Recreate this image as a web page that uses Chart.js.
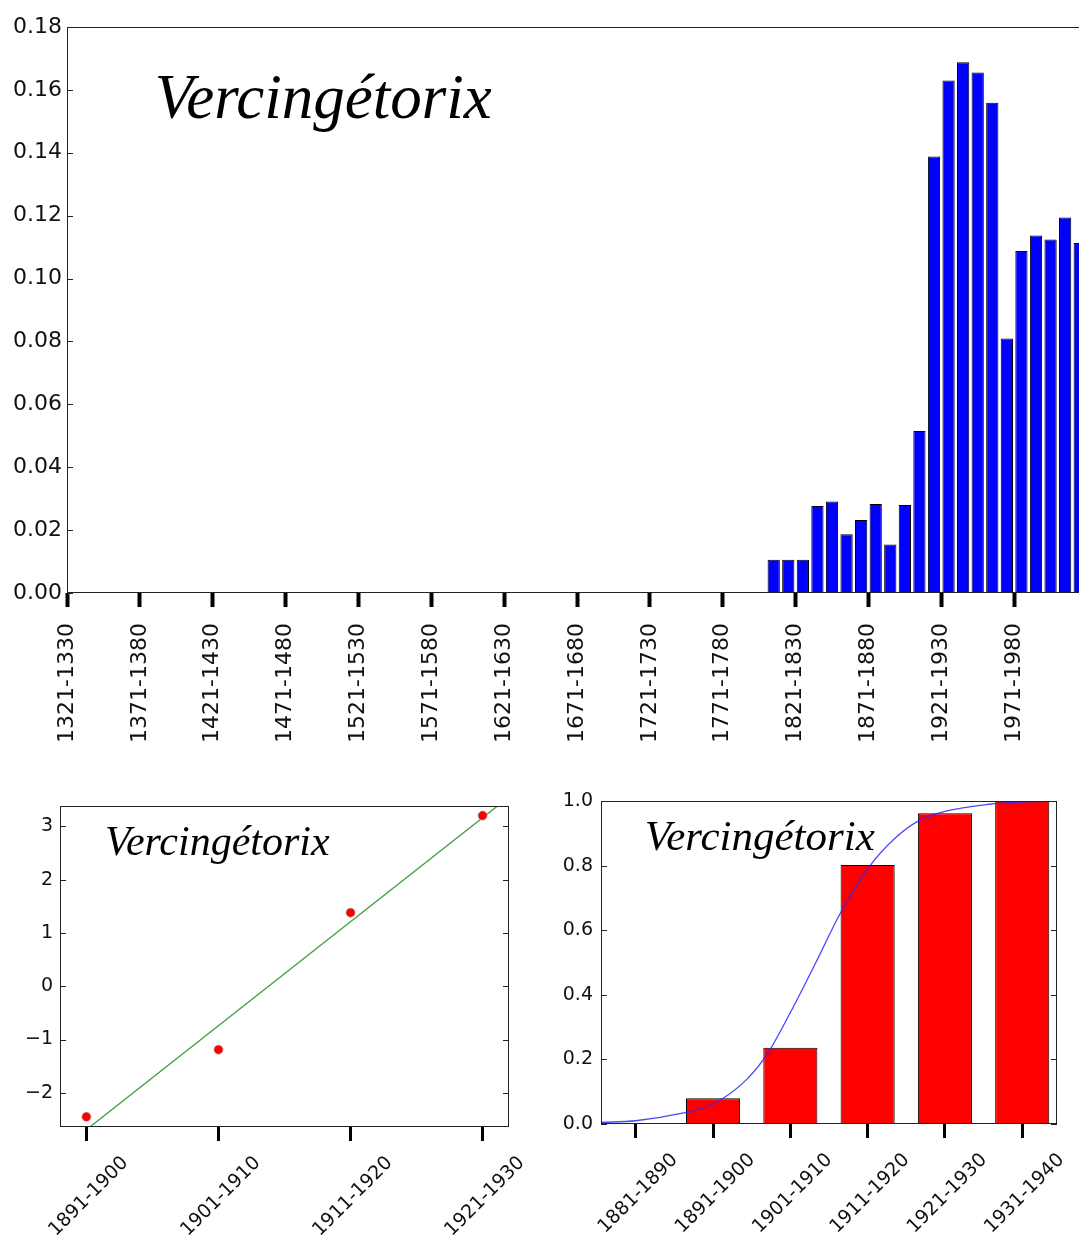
<!DOCTYPE html>
<html>
<head>
<meta charset="utf-8">
<script src="https://cdn.jsdelivr.net/npm/chart.js@4.4.0/dist/chart.umd.min.js"></script>
<style>
  html, body { margin: 0; padding: 0; background: #fff; overflow: hidden; }
  body { width: 1079px; height: 1243px; position: relative; }
  canvas { position: absolute; display: block; }
  #chartDecades { left: 0; top: 0; }
  #chartLogit { left: 0; top: 780px; }
  #chartCdf { left: 540px; top: 780px; }
</style>
</head>
<body>
<canvas id="chartDecades" width="1100" height="760"></canvas>
<canvas id="chartLogit" width="540" height="463"></canvas>
<canvas id="chartCdf" width="539" height="463"></canvas>
<script>
const NAME = 'Vercingétorix';

// top chart: every decade on the axis, bars only where the name appears
const allDecades = [
  '1321-1330', '1331-1340', '1341-1350', '1351-1360', '1361-1370', '1371-1380', '1381-1390', '1391-1400', '1401-1410', '1411-1420',
  '1421-1430', '1431-1440', '1441-1450', '1451-1460', '1461-1470', '1471-1480', '1481-1490', '1491-1500', '1501-1510', '1511-1520',
  '1521-1530', '1531-1540', '1541-1550', '1551-1560', '1561-1570', '1571-1580', '1581-1590', '1591-1600', '1601-1610', '1611-1620',
  '1621-1630', '1631-1640', '1641-1650', '1651-1660', '1661-1670', '1671-1680', '1681-1690', '1691-1700', '1701-1710', '1711-1720',
  '1721-1730', '1731-1740', '1741-1750', '1751-1760', '1761-1770', '1771-1780', '1781-1790', '1791-1800', '1801-1810', '1811-1820',
  '1821-1830', '1831-1840', '1841-1850', '1851-1860', '1861-1870', '1871-1880', '1881-1890', '1891-1900', '1901-1910', '1911-1920',
  '1921-1930', '1931-1940', '1941-1950', '1951-1960', '1961-1970', '1971-1980', '1981-1990', '1991-2000', '2001-2010', '2011-2020'
];
const barDecades = [
  '1801-1810', '1811-1820', '1821-1830', '1831-1840', '1841-1850', '1851-1860', '1861-1870', '1871-1880',
  '1881-1890', '1891-1900', '1901-1910', '1911-1920', '1921-1930', '1931-1940', '1941-1950', '1951-1960',
  '1961-1970', '1971-1980', '1981-1990', '1991-2000', '2001-2010', '2011-2020'
];
const shares = [
  0.0106, 0.0106, 0.0106, 0.0277, 0.0291, 0.0187, 0.0232, 0.0283,
  0.0154, 0.0280, 0.0515, 0.1388, 0.1630, 0.1688, 0.1655, 0.1559,
  0.0809, 0.1088, 0.1137, 0.1124, 0.1194, 0.1113
];

// bottom left: logit values and fitted line
const fitCats = ['1891-1900', '1901-1910', '1911-1920', '1921-1930'];
const logitValues = [-2.45, -1.19, 1.38, 3.20];
const fitX = [-0.2, 3.2];
const fitY = [-3.08, 3.55];
const logitTicks = [-2, -1, 0, 1, 2, 3];

// bottom right: cumulative share and logistic curve
const cdfCats = ['1881-1890', '1891-1900', '1901-1910', '1911-1920', '1921-1930', '1931-1940'];
const cdfValues = [0, 0.080, 0.236, 0.802, 0.962, 1.0];
const curveX = [-0.45, 0, 0.55, 1, 1.44, 1.71, 2, 2.33, 2.65, 3, 3.36, 3.67, 4, 4.57, 5, 5.45];
const curveY = [0.005, 0.01, 0.031, 0.062, 0.139, 0.22, 0.345, 0.5, 0.654, 0.79, 0.886, 0.94, 0.968, 0.99, 0.997, 1.0];
const cdfTicks = [0, 0.2, 0.4, 0.6, 0.8, 1.0];

const tickFont = { family: 'DejaVu Sans', size: 19 };

const frame = {
  id: 'frame',
  afterDraw(chart) {
    const { ctx, chartArea: a } = chart;
    ctx.save();
    ctx.strokeStyle = '#222';
    ctx.lineWidth = 1;
    ctx.strokeRect(Math.round(a.left) + 0.5, Math.round(a.top) + 0.5,
      Math.round(a.right - a.left) - 1, Math.round(a.bottom - a.top) - 1);
    ctx.restore();
  }
};

const innerTicks = {
  id: 'innerTicks',
  afterDraw(chart) {
    const { ctx, chartArea: a } = chart;
    const y = chart.scales.y;
    ctx.save();
    ctx.strokeStyle = '#222';
    ctx.lineWidth = 1;
    y.ticks.forEach((t, i) => {
      const py = Math.round(y.getPixelForTick(i)) + 0.5;
      ctx.beginPath();
      ctx.moveTo(a.left, py); ctx.lineTo(a.left + 6, py);
      ctx.moveTo(a.right, py); ctx.lineTo(a.right - 6, py);
      ctx.stroke();
    });
    ctx.restore();
  }
};

const nameLabel = {
  id: 'nameLabel',
  afterDatasetsDraw(chart, args, opts) {
    const { ctx, chartArea: a } = chart;
    ctx.save();
    ctx.font = 'italic ' + opts.size + 'px "Liberation Serif"';
    ctx.fillStyle = '#000';
    ctx.textBaseline = 'alphabetic';
    ctx.fillText(opts.text, a.left + opts.fx * (a.right - a.left), a.top + opts.fy * (a.bottom - a.top));
    ctx.restore();
  }
};

const yGrid = { display: false, drawTicks: false, tickLength: 0 };

// fixed axis band sizes, no extra side padding for rotated labels
const xBand = h => s => { s.height = h; s.paddingLeft = 0; s.paddingRight = 0; };
const yBand = w => s => { s.width = w; };

new Chart(document.getElementById('chartDecades'), {
  type: 'bar',
  data: {
    labels: allDecades,
    datasets: [{
      data: barDecades.map((d, i) => ({ x: d, y: shares[i] })),
      backgroundColor: '#0000ff',
      borderColor: '#000',
      borderWidth: 1,
      barPercentage: 0.84,
      categoryPercentage: 1
    }]
  },
  options: {
    responsive: false,
    animation: false,
    layout: { padding: { top: 27, right: 13, left: 0, bottom: 0 } },
    plugins: {
      legend: { display: false },
      tooltip: { enabled: false },
      nameLabel: { text: NAME, size: 63, fx: 0.086, fy: 0.161 }
    },
    scales: {
      x: {
        grid: {
          offset: true,
          drawOnChartArea: false,
          tickLength: 14,
          tickWidth: 4,
          tickColor: c => c.index % 5 === 0 ? '#000' : 'rgba(0,0,0,0)'
        },
        border: { display: false },
        ticks: {
          autoSkip: false,
          minRotation: 90,
          maxRotation: 90,
          labelOffset: -7.3,
          padding: 16,
          color: '#111',
          font: { family: 'DejaVu Sans', size: 22 },
          callback: function (v, i) { return i % 5 === 0 ? this.getLabelForValue(v) : ''; }
        },
        afterFit: xBand(167)
      },
      y: {
        min: 0,
        max: 0.18,
        grid: yGrid,
        border: { display: false },
        ticks: {
          stepSize: 0.02,
          padding: 5,
          color: '#111',
          font: { family: 'DejaVu Sans', size: 22 },
          callback: v => v.toFixed(2)
        },
        afterFit: yBand(67)
      }
    }
  },
  plugins: [frame, innerTicks, nameLabel]
});

new Chart(document.getElementById('chartLogit'), {
  type: 'scatter',
  data: {
    datasets: [
      {
        data: fitX.map((x, i) => ({ x: x, y: fitY[i] })),
        showLine: true,
        borderColor: '#3f9f3f',
        borderWidth: 1.3,
        pointRadius: 0,
        order: 2
      },
      {
        data: logitValues.map((y, i) => ({ x: i, y: y })),
        backgroundColor: '#ff0000',
        borderColor: '#999',
        borderWidth: 0.6,
        pointRadius: 4.5,
        order: 1
      }
    ]
  },
  options: {
    responsive: false,
    animation: false,
    layout: { padding: { top: 26, right: 31, left: 0, bottom: 0 } },
    plugins: {
      legend: { display: false },
      tooltip: { enabled: false },
      nameLabel: { text: NAME, size: 42, fx: 0.10, fy: 0.153 }
    },
    scales: {
      x: {
        type: 'linear',
        min: -0.2,
        max: 3.2,
        afterBuildTicks: s => { s.ticks = fitCats.map((c, i) => ({ value: i })); },
        grid: { drawOnChartArea: false, tickLength: 14, tickWidth: 3, tickColor: '#000' },
        border: { display: false },
        ticks: {
          autoSkip: false,
          minRotation: 45,
          maxRotation: 45,
          labelOffset: 39,
          padding: 11,
          color: '#111',
          font: tickFont,
          callback: v => fitCats[v] || ''
        },
        afterFit: xBand(116)
      },
      y: {
        min: -2.64,
        max: 3.38,
        afterBuildTicks: s => { s.ticks = logitTicks.map(v => ({ value: v })); },
        grid: yGrid,
        border: { display: false },
        ticks: {
          padding: 7,
          color: '#111',
          font: tickFont,
          callback: v => (v < 0 ? '\u2212' + Math.abs(v) : String(v))
        },
        afterFit: yBand(60)
      }
    }
  },
  plugins: [frame, innerTicks, nameLabel]
});

new Chart(document.getElementById('chartCdf'), {
  type: 'bar',
  data: {
    datasets: [
      {
        type: 'line',
        data: curveX.map((x, i) => ({ x: x, y: curveY[i] })),
        borderColor: 'rgba(40,40,255,0.85)',
        borderWidth: 1.3,
        pointRadius: 0,
        cubicInterpolationMode: 'monotone',
        order: 0
      },
      {
        type: 'bar',
        data: cdfCats.map((c, i) => ({ x: i, y: cdfValues[i] })),
        backgroundColor: '#ff0000',
        borderColor: '#000',
        borderWidth: 1,
        barPercentage: 0.7,
        categoryPercentage: 1,
        order: 1
      }
    ]
  },
  options: {
    responsive: false,
    animation: false,
    layout: { padding: { top: 21, right: 22, left: 0, bottom: 0 } },
    plugins: {
      legend: { display: false },
      tooltip: { enabled: false },
      nameLabel: { text: NAME, size: 43, fx: 0.096, fy: 0.152 }
    },
    scales: {
      x: {
        type: 'linear',
        min: -0.45,
        max: 5.45,
        offset: false,
        afterBuildTicks: s => { s.ticks = cdfCats.map((c, i) => ({ value: i })); },
        grid: { offset: false, drawOnChartArea: false, tickLength: 14, tickWidth: 3, tickColor: '#000' },
        border: { display: false },
        ticks: {
          autoSkip: false,
          minRotation: 45,
          maxRotation: 45,
          labelOffset: 39,
          padding: 11,
          color: '#111',
          font: tickFont,
          callback: v => cdfCats[v] || ''
        },
        afterFit: xBand(119)
      },
      y: {
        min: 0,
        max: 1,
        afterBuildTicks: s => { s.ticks = cdfTicks.map(v => ({ value: v })); },
        grid: yGrid,
        border: { display: false },
        ticks: {
          padding: 8,
          color: '#111',
          font: tickFont,
          callback: v => v.toFixed(1)
        },
        afterFit: yBand(61)
      }
    }
  },
  plugins: [frame, innerTicks, nameLabel]
});
</script>
</body>
</html>
